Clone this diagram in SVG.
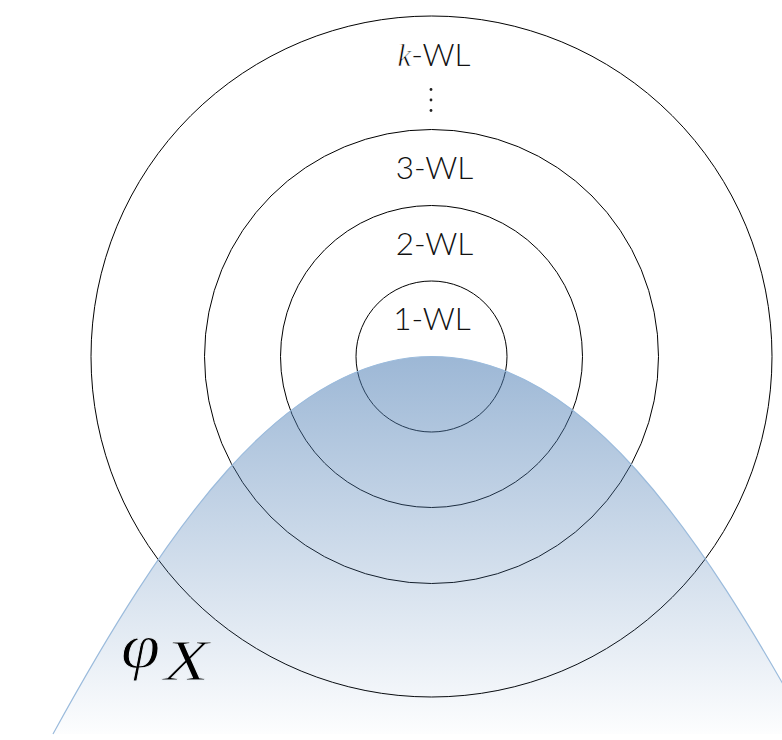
<svg xmlns="http://www.w3.org/2000/svg" width="782" height="740" viewBox="0 0 782 740">
  <defs>
    <linearGradient id="bellGrad" x1="0" y1="356" x2="0" y2="736" gradientUnits="userSpaceOnUse">
      <stop offset="0" stop-color="#4f7fb5" stop-opacity="0.56"/>
      <stop offset="1" stop-color="#4f7fb5" stop-opacity="0.01"/>
    </linearGradient>
    <style>
      .ring { fill: none; stroke: #000000; stroke-width: 1; }
      .lbl { font-family: Lato, "Open Sans", "Liberation Sans", sans-serif; font-weight: 300; font-size: 31.5px; fill: #111111; text-anchor: middle; }
      .math { font-family: "Liberation Serif", "DejaVu Serif", serif; font-style: italic; font-weight: normal; }
    </style>
  </defs>
  <rect x="0" y="0" width="782" height="740" fill="#ffffff"/>

  <g id="ring-k">
    <circle class="ring" cx="431.5" cy="356.5" r="340.5"/>
  </g>
  <g id="ring-3">
    <circle class="ring" cx="431.5" cy="356.5" r="227"/>
  </g>
  <g id="ring-2">
    <circle class="ring" cx="431.5" cy="356.5" r="151"/>
  </g>
  <g id="ring-1">
    <circle class="ring" cx="431.5" cy="356.5" r="75.5"/>
  </g>

  <g id="phiX-region">
    <path d="M 53,734 C 163,534 282,356.5 432,356.5 C 582,356.5 701,534 811,734 Z" fill="url(#bellGrad)" stroke="none"/>
    <path d="M 53,734 C 163,534 282,356.5 432,356.5 C 582,356.5 701,534 811,734" fill="none" stroke="#9bbbdc" stroke-width="1.2"/>
    <text class="math" x="121" y="667" font-size="64" fill="#000000" stroke="#eaf0f6" stroke-width="0.9" textLength="39" lengthAdjust="spacingAndGlyphs">φ</text>
    <text class="math" x="164" y="680" font-size="56" fill="#000000" stroke="#eaf0f6" stroke-width="0.9" textLength="45" lengthAdjust="spacingAndGlyphs">X</text>
  </g>

  <g id="labels">
    <text class="lbl" x="434" y="65.5"><tspan class="math" font-size="31" fill="#000000" stroke="#ffffff" stroke-width="0.7">k</tspan>-WL</text>
    <circle cx="431" cy="89.5" r="1.4" fill="#222222"/>
    <circle cx="431" cy="100" r="1.4" fill="#222222"/>
    <circle cx="431" cy="110.5" r="1.4" fill="#222222"/>
    <text class="lbl" x="434.5" y="179">3-WL</text>
    <text class="lbl" x="434.5" y="255">2-WL</text>
    <text class="lbl" x="432" y="330">1-WL</text>
  </g>
</svg>
